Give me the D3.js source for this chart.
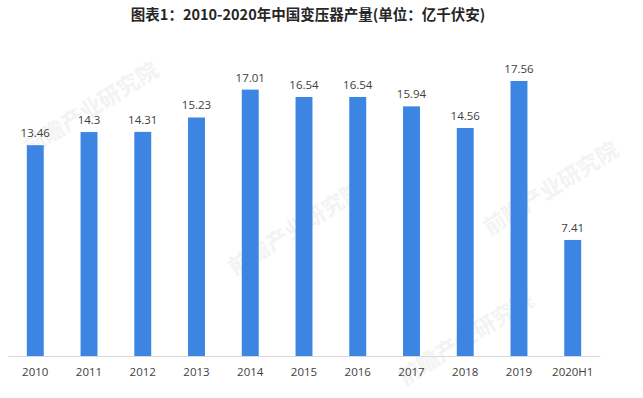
<!DOCTYPE html>
<html>
<head>
<meta charset="utf-8">
<script src="https://cdn.jsdelivr.net/npm/d3@7"></script>
<style>
  body { margin: 0; background: #fff; }
  svg { display: block; }
</style>
</head>
<body>
<svg id="chart" width="643" height="398"></svg>
<script>
var years = ["2010", "2011", "2012", "2013", "2014", "2015", "2016", "2017", "2018", "2019", "2020H1"];
var output = [13.46, 14.3, 14.31, 15.23, 17.01, 16.54, 16.54, 15.94, 14.56, 17.56, 7.41];
var valueLabels = ["13.46", "14.3", "14.31", "15.23", "17.01", "16.54", "16.54", "15.94", "14.56", "17.56", "7.41"];
var title = "图表1：2010-2020年中国变压器产量(单位：亿千伏安)";
var watermark = "前瞻产业研究院";

var margin = { top: 81, bottom: 42, left: 8, right: 43 };
var svg = d3.select("svg");
var width = +svg.attr("width");
var height = +svg.attr("height");
var plotWidth = width - margin.left - margin.right;
var plotHeight = height - margin.top - margin.bottom;

// faint watermarks
var wm = svg.append("g").attr("class", "watermark");
[[95, 115], [300, 235], [555, 195], [470, 345]].forEach(function (p) {
    wm.append("text")
        .attr("transform", "translate(" + p[0] + "," + p[1] + ") rotate(-32)")
        .attr("text-anchor", "middle")
        .style("font-family", "'Noto Sans CJK SC', sans-serif")
        .style("font-weight", "bold")
        .style("font-size", "22px")
        .style("fill", "#f3f3f3")
        .text(watermark);
});

svg.append("text")
    .attr("x", 308)
    .attr("y", 20)
    .attr("text-anchor", "middle")
    .style("font-family", "'Noto Sans CJK SC', sans-serif")
    .style("font-weight", "bold")
    .style("font-size", "14.5px")
    .style("fill", "#262626")
    .text(title);

var plot = svg.append("g")
    .attr("transform", "translate(" + margin.left + "," + margin.top + ")");

var xScale = d3.scaleBand()
    .domain(years)
    .range([0, plotWidth])
    .paddingInner(0.685)
    .paddingOuter(0.35);

var yScale = d3.scaleLinear()
    .domain([0, 17.56])
    .range([plotHeight, 0]);

plot.append("g")
    .selectAll("rect")
    .data(years)
    .enter().append("rect")
    .attr("x", function (d) { return xScale(d); })
    .attr("y", function (d, i) { return yScale(output[i]); })
    .attr("width", xScale.bandwidth())
    .attr("height", function (d, i) { return plotHeight - yScale(output[i]); })
    .style("fill", "#3c85e2");

plot.append("g")
    .selectAll("text")
    .data(years)
    .enter().append("text")
    .attr("x", function (d) { return xScale(d) + xScale.bandwidth() / 2; })
    .attr("y", function (d, i) { return yScale(output[i]) - 8; })
    .attr("text-anchor", "middle")
    .style("font-family", "'Open Sans', sans-serif")
    .style("font-size", "11.5px")
    .style("fill", "#404040")
    .text(function (d, i) { return valueLabels[i]; });

var xAxis = d3.axisBottom(xScale).tickSize(0).tickPadding(12);
var axisG = plot.append("g")
    .attr("class", "x axis")
    .attr("transform", "translate(0," + plotHeight + ")")
    .call(xAxis);
axisG.select(".domain").attr("stroke", "#d9d9d9");
axisG.selectAll("text")
    .style("font-family", "'Open Sans', sans-serif")
    .style("font-size", "11.5px")
    .style("fill", "#404040");
</script>
</body>
</html>
